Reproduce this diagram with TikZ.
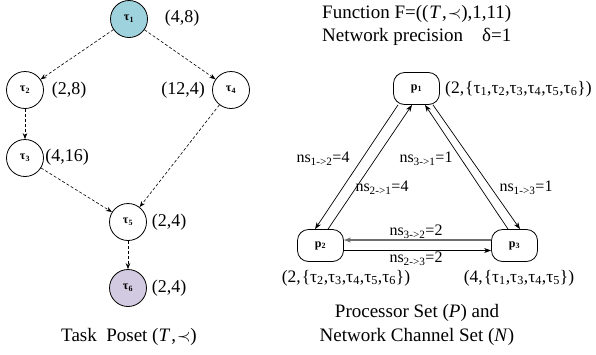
\documentclass[tikz,border=0pt]{standalone}
\usepackage{fontspec}
\setmainfont{Liberation Serif}
\usetikzlibrary{arrows.meta,calc}

\definecolor{startfill}{RGB}{158,210,220}
\definecolor{endfill}{RGB}{210,202,224}
\definecolor{backlink}{RGB}{110,110,110}

\begin{document}
\begin{tikzpicture}[x=1pt,y=-1pt,
  task/.style={circle, draw, line width=0.8pt, minimum size=37pt, inner sep=0pt,
    font=\fontsize{12}{12}\selectfont\bfseries},
  proc/.style={draw, line width=0.8pt, rounded corners=11pt, minimum width=46pt,
    minimum height=32pt, inner sep=0pt, font=\fontsize{12}{12}\selectfont\bfseries},
  lbl/.style={font=\fontsize{18}{20}\selectfont, inner sep=0pt},
  set/.style={font=\fontsize{17.5}{20}\selectfont, inner sep=0pt},
  head/.style={font=\fontsize{19}{22}\selectfont, inner sep=0pt},
  chan/.style={font=\fontsize{16}{18}\selectfont, inner sep=0pt},
  dep/.style={-{Stealth[length=6pt,width=4.5pt]}, dash pattern=on 3pt off 2pt, line width=0.6pt},
  link/.style={-{Stealth[length=7pt,width=5pt]}, line width=0.7pt},
  glink/.style={link, draw=backlink, line width=1.8pt}
]
\useasboundingbox (0,0) rectangle (596,354);

% ---- task poset ----
\node[task, fill=startfill] (t1) at (129,19)  {τ\textsubscript{1}};
\node[task] (t2) at (25,90)   {τ\textsubscript{2}};
\node[task] (t4) at (231,90)  {τ\textsubscript{4}};
\node[task] (t3) at (25,158)  {τ\textsubscript{3}};
\node[task] (t5) at (128,222) {τ\textsubscript{5}};
\node[task, fill=endfill] (t6) at (128,288) {τ\textsubscript{6}};

\node[lbl] (w1) at (182,18)  {(4,8)};
\node[lbl] (w2) at (69,90)   {(2,8)};
\node[lbl] (w4) at (183,90)  {(12,4)};
\node[lbl] (w3) at (67,157)  {(4,16)};
\node[lbl] (w5) at (169,222) {(2,4)};
\node[lbl] (w6) at (169,288) {(2,4)};

\draw[dep] (t1) -- (t2);
\draw[dep] (t1) -- (t4);
\draw[dep] (t2) -- (t3);
\draw[dep] (t3) -- (t5);
\draw[dep] (t4) -- (t5);
\draw[dep] (t5) -- (t6);

\node[head] (cap1) at (129,337) {Task\enspace Poset (\textit{T}\kern1pt,\kern1pt$\prec$)};

% ---- header ----
\node[head, anchor=west] (fn) at (322,14) {Function F=((\kern1pt\textit{T}\kern1pt,\kern1pt$\prec$),1,11)};
\node[head, anchor=west] (np) at (322,37) {Network precision\quad δ=1};

% ---- processors ----
\node[proc] (p1) at (416.5,88.5) {p\textsubscript{1}};
\node[proc] (p2) at (320.5,245.5) {p\textsubscript{2}};
\node[proc] (p3) at (514.5,245.5) {p\textsubscript{3}};

\node[set, anchor=west] (c1) at (445,89) {(2,\kern1pt\{τ\textsubscript{1},τ\textsubscript{2},τ\textsubscript{3},τ\textsubscript{4},τ\textsubscript{5},τ\textsubscript{6}\})};
\node[set] (c2) at (346,278) {(2,\kern1pt\{τ\textsubscript{2},τ\textsubscript{3},τ\textsubscript{4},τ\textsubscript{5},τ\textsubscript{6}\})};
\node[set] (c3) at (519,278) {(4,\kern1pt\{τ\textsubscript{1},τ\textsubscript{3},τ\textsubscript{4},τ\textsubscript{5}\})};

% ---- network channels ----
\draw[link] ([xshift=-18.5pt]p1.south) -- ([xshift=-5.5pt]p2.north);
\draw[link] ([xshift=7.5pt]p2.north) -- ([xshift=-4.5pt]p1.south);
\draw[link] ([xshift=16.5pt]p1.south) -- ([xshift=5.5pt]p3.north);
\draw[link] ([xshift=-6.5pt]p3.north) -- ([xshift=8.5pt]p1.south);
\draw[glink] ([yshift=5.5pt]p3.west) -- ([yshift=5.5pt]p2.east);
\draw[link] ([yshift=-5pt]p2.east) -- ([yshift=-5pt]p3.west);

\node[chan] (n12) at (323,159) {ns\textsubscript{1->2}=4};
\node[chan] (n31) at (426,159) {ns\textsubscript{3->1}=1};
\node[chan] (n21) at (382,188) {ns\textsubscript{2->1}=4};
\node[chan] (n13) at (526,188) {ns\textsubscript{1->3}=1};
\node[chan] (n32) at (416,232) {ns\textsubscript{3->2}=2};
\node[chan] (n23) at (416,259) {ns\textsubscript{2->3}=2};

\node[head] (cap2) at (417,313) {Processor Set (\textit{P}) and};
\node[head] (cap3) at (417,337) {Network Channel Set (\textit{N})};
\end{tikzpicture}
\end{document}
